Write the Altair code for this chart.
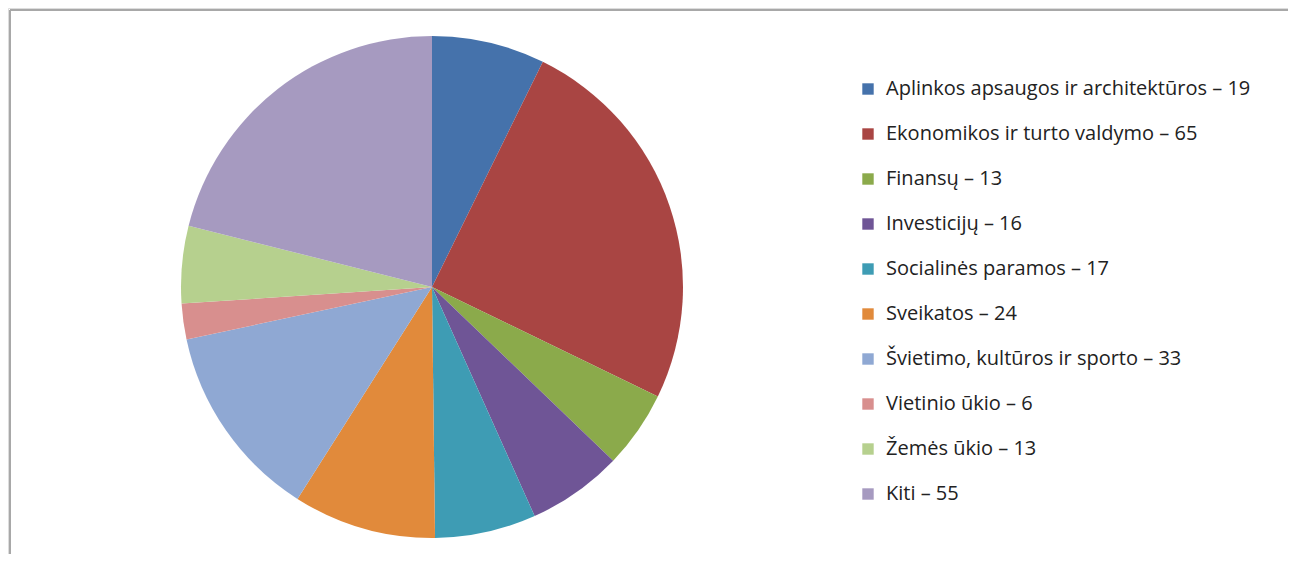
import altair as alt
import pandas as pd

categories = [
    "Aplinkos apsaugos ir architektūros – 19",
    "Ekonomikos ir turto valdymo – 65",
    "Finansų – 13",
    "Investicijų – 16",
    "Socialinės paramos – 17",
    "Sveikatos – 24",
    "Švietimo, kultūros ir sporto – 33",
    "Vietinio ūkio – 6",
    "Žemės ūkio – 13",
    "Kiti – 55",
]
values = [19, 65, 13, 16, 17, 24, 33, 6, 13, 55]
colors = ["#4572AB", "#A94543", "#8BAA4B", "#6F5596", "#3E9CB4",
          "#E18A3B", "#8FA8D3", "#D88F8E", "#B6D08E", "#A69AC0"]

df = pd.DataFrame({"category": categories, "value": values,
                   "order": list(range(len(categories)))})

W, H = 1280, 546

pie = alt.Chart(df).mark_arc(radius=251, stroke=None).encode(
    theta=alt.Theta("value:Q", stack=True),
    order=alt.Order("order:Q"),
    color=alt.Color(
        "category:N",
        sort=categories,
        scale=alt.Scale(domain=categories, range=colors),
        legend=alt.Legend(
            title=None,
            orient="none",
            legendX=850,
            legendY=71,
            symbolType="square",
            symbolSize=130,
            symbolStrokeWidth=0,
            labelFont="Open Sans",
            labelFontSize=20,
            labelColor="#222222",
            labelOffset=8,
            rowPadding=25,
            labelLimit=500,
        ),
    ),
    x=alt.value(424),
    y=alt.value(279),
)

frame_top = alt.Chart(df).mark_rule(color="#A8A8A8", strokeWidth=1.5).encode(
    x=alt.value(2), x2=alt.value(W + 8), y=alt.value(2)
)
frame_left = alt.Chart(df).mark_rule(color="#A8A8A8", strokeWidth=1.5).encode(
    x=alt.value(2), y=alt.value(2), y2=alt.value(H)
)

chart = alt.layer(pie, frame_top, frame_left).properties(
    width=W, height=H, padding=0, autosize=alt.AutoSizeParams(type="none")
).configure_view(stroke=None).configure(background="white")

chart.save("out.html", embed_options={"renderer": "svg", "actions": False})
